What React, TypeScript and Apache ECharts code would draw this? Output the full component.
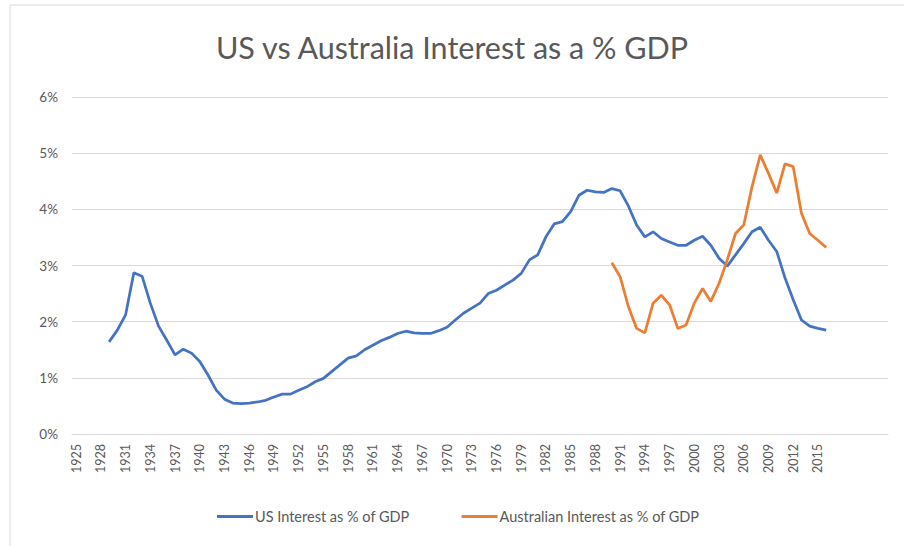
import React, { useEffect, useRef } from "react";
import * as echarts from "echarts";

const TITLE = "US vs Australia Interest as a % GDP";
const FIRST_YEAR = 1925;
const LAST_YEAR = 2023;
const LAST_LABEL_YEAR = 2016;

const usStartYear = 1929;
const usValues = [
  1.64, 1.85, 2.12, 2.87, 2.81, 2.33, 1.92, 1.67, 1.41, 1.51, 1.44, 1.29, 1.05,
  0.78, 0.62, 0.55, 0.54, 0.55, 0.57, 0.6, 0.66, 0.71, 0.71, 0.78, 0.84, 0.93,
  0.99, 1.11, 1.23, 1.35, 1.39, 1.5, 1.58, 1.66, 1.72, 1.79, 1.83, 1.8, 1.79,
  1.79, 1.84, 1.9, 2.03, 2.15, 2.24, 2.33, 2.5, 2.56, 2.65, 2.74, 2.86, 3.1,
  3.19, 3.51, 3.74, 3.78, 3.96, 4.25, 4.34, 4.31, 4.3, 4.37, 4.33, 4.06, 3.72,
  3.51, 3.6, 3.48, 3.42, 3.36, 3.36, 3.45, 3.52, 3.36, 3.13, 2.99, 3.19, 3.39,
  3.6, 3.68, 3.45, 3.25, 2.78, 2.39, 2.03, 1.92, 1.88, 1.85,
];

const ausStartYear = 1990;
const ausValues = [
  3.05, 2.8, 2.27, 1.88, 1.8, 2.33, 2.47, 2.3, 1.88, 1.94, 2.33, 2.59, 2.36,
  2.68, 3.1, 3.57, 3.72, 4.4, 4.97, 4.64, 4.29, 4.81, 4.76, 3.93, 3.57, 3.45,
  3.32,
];

const yTicks = [0, 1, 2, 3, 4, 5, 6];

const US_NAME = "US Interest as % of GDP";
const AUS_NAME = "Australian Interest as % of GDP";

const years: string[] = [];
for (let y = FIRST_YEAR; y <= LAST_YEAR; y++) years.push(String(y));

function alignSeries(start: number, values: number[]) {
  return years.map((y) => {
    const i = Number(y) - start;
    return i >= 0 && i < values.length ? values[i] : null;
  });
}

export default function App() {
  const ref = useRef<HTMLDivElement>(null);
  useEffect(() => {
    if (!ref.current) return;
    const chart = echarts.init(ref.current, undefined, { renderer: "svg" });
    const grey = "#595959";
    const font = "Lato";
    chart.setOption({
      animation: false,
      backgroundColor: "#ffffff",
      title: {
        text: TITLE,
        left: "center",
        top: 26,
        textStyle: { color: grey, fontSize: 30.5, fontWeight: "normal", fontFamily: font },
      },
      legend: {
        top: 504,
        left: 212,
        icon: "rect",
        itemWidth: 36,
        itemHeight: 3,
        itemGap: 52,
        textStyle: { color: grey, fontSize: 14.5, fontFamily: font, padding: [0, 0, 0, -3] },
        data: [US_NAME, AUS_NAME],
      },
      grid: { left: 72, right: 16, top: 97, bottom: 112 },
      xAxis: {
        type: "category",
        data: years,
        boundaryGap: true,
        axisLine: { show: true, lineStyle: { color: "#D9D9D9" } },
        axisTick: { show: false },
        axisLabel: {
          interval: 2,
          rotate: 90,
          color: grey,
          fontSize: 12.5,
          fontFamily: font,
          margin: 10,
          formatter: (v: string) => (Number(v) <= LAST_LABEL_YEAR ? v : ""),
        },
      },
      yAxis: {
        type: "value",
        min: yTicks[0],
        max: yTicks[yTicks.length - 1],
        interval: 1,
        axisLine: { show: false },
        axisTick: { show: false },
        splitLine: { lineStyle: { color: "#D9D9D9" } },
        axisLabel: {
          color: grey,
          fontSize: 13.5,
          fontFamily: font,
          margin: 14,
          formatter: "{value}%",
        },
      },
      series: [
        {
          name: US_NAME,
          type: "line",
          data: alignSeries(usStartYear, usValues),
          showSymbol: false,
          symbol: "none",
          lineStyle: { color: "#4472C4", width: 2.75 },
          itemStyle: { color: "#4472C4" },
        },
        {
          name: AUS_NAME,
          type: "line",
          data: alignSeries(ausStartYear, ausValues),
          showSymbol: false,
          symbol: "none",
          lineStyle: { color: "#ED7D31", width: 2.75 },
          itemStyle: { color: "#ED7D31" },
        },
      ],
      graphic: [
        { type: "line", shape: { x1: 10, y1: 5, x2: 904, y2: 5 }, style: { stroke: "#D9D9D9", lineWidth: 1 } },
        { type: "line", shape: { x1: 10, y1: 5, x2: 10, y2: 546 }, style: { stroke: "#D9D9D9", lineWidth: 1 } },
      ],
    });
    return () => chart.dispose();
  }, []);
  return (
    <div
      ref={ref}
      style={{ position: "fixed", left: 0, top: 0, width: 904, height: 546 }}
    />
  );
}
